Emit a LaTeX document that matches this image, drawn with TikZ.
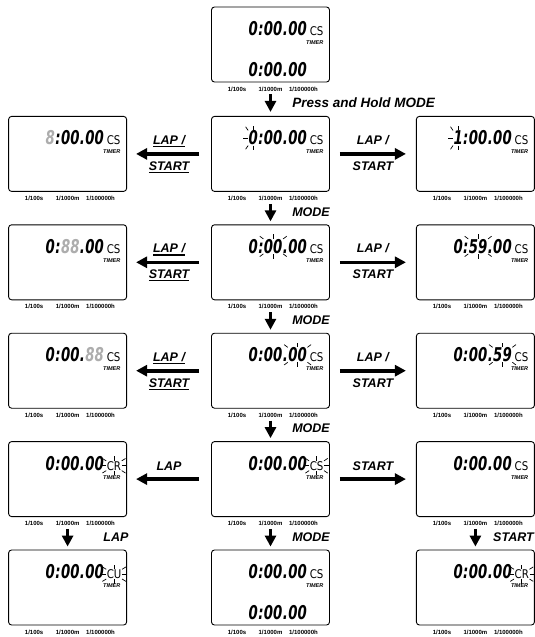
\documentclass[tikz,border=0pt]{standalone}
\usepackage{fontspec}
\setmainfont{Liberation Sans}
\newfontfamily\lcdfont{DejaVu Sans}
\usetikzlibrary{arrows.meta,positioning,calc}

\definecolor{ghost}{gray}{0.68}

\newcommand\lineunder[1]{\setbox0=\hbox{#1}\rlap{\rule[-2.6pt]{\wd0}{1.1pt}}\box0}

\newcommand\lcdline[5]{%
  \node[digit, anchor=base east] (#1ss) at (#2) {\scalebox{.7}[1]{#5}};
  \node[digit, anchor=base east] (#1dot) at (#1ss.base west) {\scalebox{.7}[1]{.}};
  \node[digit, anchor=base east] (#1mm) at (#1dot.base west) {\scalebox{.7}[1]{#4}};
  \node[digit, anchor=base east] (#1col) at (#1mm.base west) {\scalebox{.7}[1]{:}};
  \node[digit, anchor=base east] (#1hh) at (#1col.base west) {\scalebox{.7}[1]{#3}};
}

\newcommand\lcd[5]{%
  \lcdline{#1}{[shift={(96pt,-29pt)}]#1.north west}{#2}{#3}{#4}
  \node[unit, anchor=base west] (#1unit) at ([xshift=2.5pt]#1ss.base east) {\scalebox{.85}[1]{#5}};
  \node[timer, anchor=east] (#1tmr) at ([shift={(-6.5pt,-36pt)}]#1.north east) {TIMER};
  \node[scalelbl] (#1fa) at ([shift={(26pt,-6.5pt)}]#1.south west) {1/100s};
  \node[scalelbl] (#1fb) at ([yshift=-6.5pt]#1.south) {1/1000m};
  \node[scalelbl] (#1fc) at ([shift={(-26.5pt,-6.5pt)}]#1.south east) {1/100000h};
}

\newcommand\blink[2]{%
  \foreach \side in {#2}
    \draw[ray] ($(#1.\side)!-.5pt!(#1.center)$) -- ($(#1.\side)!-5pt!(#1.center)$);
}

\begin{document}
\begin{tikzpicture}[
  x=1pt, y=1pt, node distance=32.5pt,
  screen/.style={draw, rounded corners=3pt, line width=.9pt, minimum width=118pt, minimum height=75pt, inner sep=0pt},
  digit/.style={font=\lcdfont\bfseries\itshape\fontsize{19}{19}\selectfont, inner sep=0pt, text height=13.9pt, text depth=0pt},
  unit/.style={font=\lcdfont\fontsize{12}{12}\selectfont, inner sep=0pt, text height=8.8pt, text depth=0pt},
  timer/.style={font=\bfseries\itshape\fontsize{5.5}{6}\selectfont, inner sep=0pt},
  scalelbl/.style={font=\bfseries\fontsize{6}{7}\selectfont, inner sep=0pt},
  lbl/.style={font=\bfseries\itshape\fontsize{12.5}{14}\selectfont, inner sep=1pt, text height=9.5pt, text depth=2.6pt},
  bigarrow/.style={line width=3.6pt, -{Triangle[length=11pt, width=11pt]}},
  ray/.style={line width=.7pt},
]
  \useasboundingbox (0,0) rectangle (535,-637);

  \node[screen] (top) at (270.5,-44.5) {};
  \node[screen, below=33.5pt of top] (c1) {};
  \node[screen, left=84pt of c1] (l1) {};
  \node[screen, right=86pt of c1] (r1) {};
  \node[screen, below=of c1] (c2) {};
  \node[screen, left=84pt of c2] (l2) {};
  \node[screen, right=86pt of c2] (r2) {};
  \node[screen, below=of c2] (c3) {};
  \node[screen, left=84pt of c3] (l3) {};
  \node[screen, right=86pt of c3] (r3) {};
  \node[screen, below=of c3] (c4) {};
  \node[screen, left=84pt of c4] (l4) {};
  \node[screen, right=86pt of c4] (r4) {};
  \node[screen, below=of c4] (c5) {};
  \node[screen, left=84pt of c5] (l5) {};
  \node[screen, right=86pt of c5] (r5) {};

  \lcd{top}{0}{00}{00}{CS}
  \lcdline{topb}{[shift={(96pt,-70pt)}]top.north west}{0}{00}{00}

  \lcd{l1}{\textcolor{ghost}{8}}{00}{00}{CS}
  \lcd{c1}{0}{00}{00}{CS}
  \lcd{r1}{1}{00}{00}{CS}
  \blink{c1hh}{north west,west,south west,north,south}
  \blink{r1hh}{north west,west,south west,north,south}

  \lcd{l2}{0}{\textcolor{ghost}{88}}{00}{CS}
  \lcd{c2}{0}{00}{00}{CS}
  \lcd{r2}{0}{59}{00}{CS}
  \blink{c2mm}{north west,south west,north,south,north east,south east}
  \blink{r2mm}{north west,south west,north,south,north east,south east}

  \lcd{l3}{0}{00}{\textcolor{ghost}{88}}{CS}
  \lcd{c3}{0}{00}{00}{CS}
  \lcd{r3}{0}{00}{59}{CS}
  \blink{c3ss}{north west,south west,north,south,north east,south east}
  \blink{r3ss}{north west,south west,north,south,north east,south east}

  \lcd{l4}{0}{00}{00}{CR}
  \lcd{c4}{0}{00}{00}{CS}
  \lcd{r4}{0}{00}{00}{CS}
  \blink{l4unit}{north west,west,south west,north,south,north east,east,south east}
  \blink{c4unit}{north west,west,south west,north,south,north east,east,south east}

  \lcd{l5}{0}{00}{00}{CU}
  \lcd{c5}{0}{00}{00}{CS}
  \lcdline{c5b}{[shift={(96pt,-70pt)}]c5.north west}{0}{00}{00}
  \lcd{r5}{0}{00}{00}{CR}
  \blink{l5unit}{north west,west,south west,north,south,north east,east,south east}
  \blink{r5unit}{north west,west,south west,north,south,north east,east,south east}

  \draw[bigarrow, shorten <=3pt, shorten >=4pt] (topfb) -- node[lbl, right=19pt, font=\bfseries\itshape\fontsize{13.5}{15}\selectfont] (press) {Press and Hold MODE} (c1);
  \draw[bigarrow, shorten <=3pt, shorten >=3pt] (c1fb) -- node[lbl, right=19pt] (mode1) {MODE} (c2);
  \draw[bigarrow, shorten <=3pt, shorten >=3pt] (c2fb) -- node[lbl, right=19pt] (mode2) {MODE} (c3);
  \draw[bigarrow, shorten <=3pt, shorten >=3pt] (c3fb) -- node[lbl, right=19pt] (mode3) {MODE} (c4);
  \draw[bigarrow, shorten <=3pt, shorten >=3pt] (c4fb) -- node[lbl, right=19pt] (mode4) {MODE} (c5);
  \draw[bigarrow, shorten <=3pt, shorten >=3pt] (l4fb) -- node[lbl, right=33pt] (lap4) {LAP} (l5);
  \draw[bigarrow, shorten <=3pt, shorten >=3pt] (r4fb) -- node[lbl, right=15pt] (start4) {START} (r5);

  \draw[bigarrow, shorten <=12pt, shorten >=9pt] (c1) -- node[lbl, above=4pt] (lapl1) {\lineunder{LAP /}} node[lbl, below=4pt] (startl1) {\lineunder{START}} (l1);
  \draw[bigarrow, shorten <=10pt, shorten >=10pt] (c1) -- node[lbl, above=4pt] (lapr1) {LAP /} node[lbl, below=4pt] (startr1) {START} (r1);
  \draw[bigarrow, shorten <=12pt, shorten >=9pt] (c2) -- node[lbl, above=4pt] (lapl2) {\lineunder{LAP /}} node[lbl, below=4pt] (startl2) {\lineunder{START}} (l2);
  \draw[bigarrow, shorten <=10pt, shorten >=10pt] (c2) -- node[lbl, above=4pt] (lapr2) {LAP /} node[lbl, below=4pt] (startr2) {START} (r2);
  \draw[bigarrow, shorten <=12pt, shorten >=9pt] (c3) -- node[lbl, above=4pt] (lapl3) {\lineunder{LAP /}} node[lbl, below=4pt] (startl3) {\lineunder{START}} (l3);
  \draw[bigarrow, shorten <=10pt, shorten >=10pt] (c3) -- node[lbl, above=4pt] (lapr3) {LAP /} node[lbl, below=4pt] (startr3) {START} (r3);
  \draw[bigarrow, shorten <=12pt, shorten >=9pt] (c4) -- node[lbl, above=3pt] (lapl4) {LAP} (l4);
  \draw[bigarrow, shorten <=10pt, shorten >=10pt] (c4) -- node[lbl, above=3pt] (startr4) {START} (r4);
\end{tikzpicture}
\end{document}
